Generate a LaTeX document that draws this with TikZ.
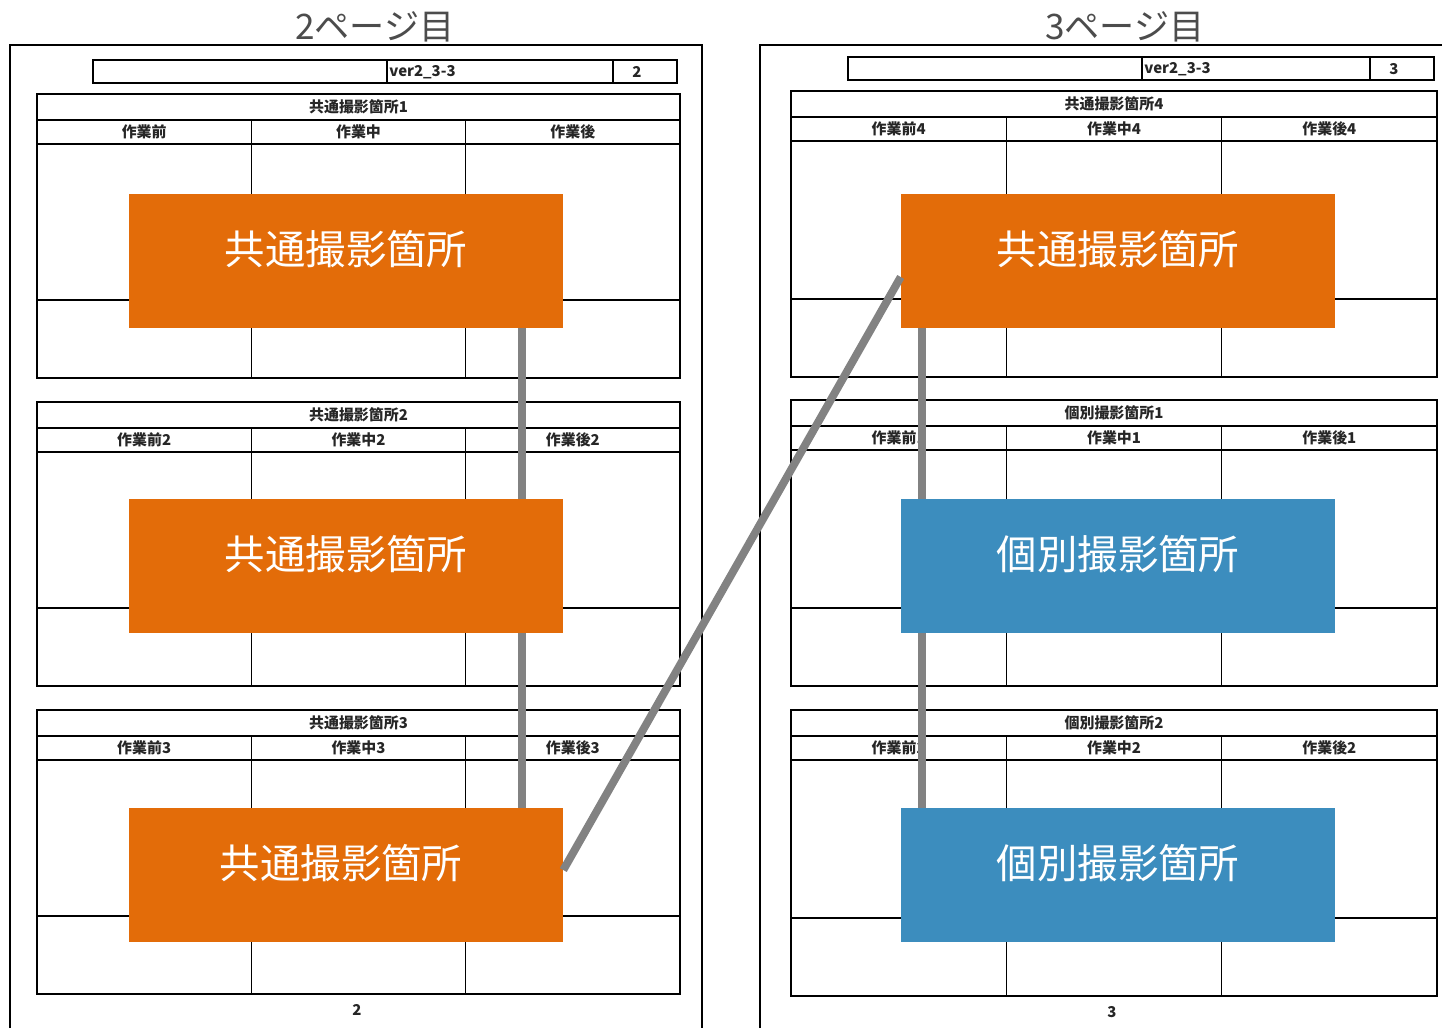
\documentclass[tikz,border=0pt]{standalone}
\usepackage{fontspec}
\setmainfont{Noto Sans CJK JP}
\usepackage{tikz}
\usetikzlibrary{positioning}
\definecolor{shotorange}{HTML}{E36C09}
\definecolor{shotblue}{HTML}{3C8DBE}
\definecolor{linkgray}{HTML}{828282}

% photo sheet table: x0, ytop, width, height, title, before, during, after
\newcommand{\phototable}[8]{%
  \draw[line width=0.9pt] (#1,#2) rectangle ({#1+#3},{#2+#4});
  \draw[line width=0.6pt] (#1,{#2+26}) -- ({#1+#3},{#2+26})
    (#1,{#2+50}) -- ({#1+#3},{#2+50})
    (#1,{#2+#4-78}) -- ({#1+#3},{#2+#4-78})
    ({#1+#3/3},{#2+26}) -- ({#1+#3/3},{#2+#4})
    ({#1+2*#3/3},{#2+26}) -- ({#1+2*#3/3},{#2+#4});
  \node[celltext] at ({#1+#3/2},{#2+13}) {#5};
  \node[celltext] at ({#1+#3/6},{#2+38}) {#6};
  \node[celltext] at ({#1+#3/2},{#2+38}) {#7};
  \node[celltext] at ({#1+5*#3/6},{#2+38}) {#8};
}

\begin{document}
\begin{tikzpicture}[x=0.02cm, y=-0.02cm,
    celltext/.style={inner sep=0pt, text=black!85, font=\fontsize{8.5}{9}\selectfont\bfseries},
    pagetitle/.style={inner sep=0pt, text=black!70, font=\fontsize{20}{20}\selectfont},
    shotbox/.style={minimum width=8.68cm, minimum height=2.68cm, inner sep=0pt, text height=0.6cm, text depth=0.45cm, text=white, font=\fontsize{23}{23}\selectfont},
    link/.style={draw=linkgray, line width=4.5pt}]
    \useasboundingbox (0,0) rectangle (1442,1028);

    % page 2
    \node[pagetitle] (t2) at (375,27) {2ページ目};
    \draw[line width=1.2pt] (10,1028) -- (10,45) -- (702,45) -- (702,1028);
    \draw[line width=0.8pt] (93,60) rectangle (677,83) (387,60) -- (387,83) (613,60) -- (613,83);
    \node[celltext, anchor=west] at (389,72) {ver2\_3-3};
    \node[celltext] at (637,72) {2};
    \phototable{37}{94}{643}{284}{共通撮影箇所1}{作業前}{作業中}{作業後}
    \phototable{37}{402}{643}{284}{共通撮影箇所2}{作業前2}{作業中2}{作業後2}
    \phototable{37}{710}{643}{284}{共通撮影箇所3}{作業前3}{作業中3}{作業後3}
    \node[celltext] at (357,1010) {2};

    % page 3
    \node[pagetitle] (t3) at (1125,27) {3ページ目};
    \draw[line width=1.2pt] (760,1028) -- (760,45) -- (1442,45);
    \draw[line width=0.8pt] (848,57) rectangle (1434,80) (1142,57) -- (1142,80) (1370,57) -- (1370,80);
    \node[celltext, anchor=west] at (1144,69) {ver2\_3-3};
    \node[celltext] at (1394,69) {3};
    \phototable{791}{91}{646}{286}{共通撮影箇所4}{作業前4}{作業中4}{作業後4}
    \phototable{791}{400}{646}{286}{個別撮影箇所1}{作業前1}{作業中1}{作業後1}
    \phototable{791}{710}{646}{286}{個別撮影箇所2}{作業前2}{作業中2}{作業後2}
    \node[celltext] at (1112,1012) {3};

    % overlay boxes
    \node[shotbox, fill=shotorange] (p2a) at (346,261) {共通撮影箇所};
    \node[shotbox, fill=shotorange] (p2b) at (346,566) {共通撮影箇所};
    \node[shotbox, fill=shotorange] (p2c) at (346,875) {\hspace*{-0.2cm}共通撮影箇所};
    \node[shotbox, fill=shotorange] (p3a) at (1118,261) {共通撮影箇所};
    \node[shotbox, fill=shotblue] (p3b) at (1118,566) {個別撮影箇所};
    \node[shotbox, fill=shotblue] (p3c) at (1118,875) {個別撮影箇所};

    \path[link]
    ([xshift=3.52cm]p2a.south) edge ([xshift=3.52cm]p2b.north)
    ([xshift=3.52cm]p2b.south) edge ([xshift=3.52cm]p2c.north)
    ([yshift=0.1cm]p2c.east) edge ([yshift=-0.32cm]p3a.west)
    ([xshift=-3.92cm]p3a.south) edge ([xshift=-3.92cm]p3b.north)
    ([xshift=-3.92cm]p3b.south) edge ([xshift=-3.92cm]p3c.north);
\end{tikzpicture}
\end{document}
